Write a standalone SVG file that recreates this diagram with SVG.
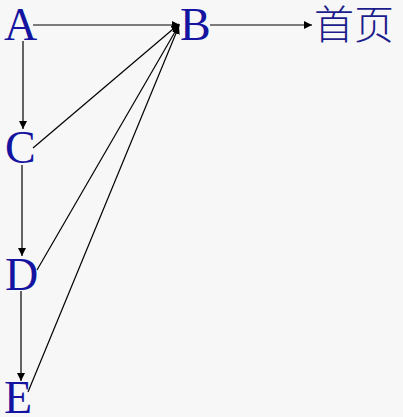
<svg xmlns="http://www.w3.org/2000/svg" width="403" height="417" viewBox="0 0 403 417">
<style>
.t{font-family:"Liberation Serif","Times New Roman",serif;font-size:46px;fill:#1414a0}
.cjk{font-family:"Liberation Serif","Noto Sans CJK SC",serif;font-size:40px;fill:#1c1c8c;font-weight:300}
.e{stroke:#000;stroke-width:1.2;fill:none;marker-end:url(#ah)}
</style>
<defs>
<marker id="ah" viewBox="0 0 10 10" refX="10" refY="5" markerWidth="8" markerHeight="8" markerUnits="userSpaceOnUse" orient="auto">
<path d="M0,0 L10,5 L0,10 z" fill="#000"/>
</marker>
</defs>
<rect width="403" height="417" fill="#f7f7f7"/>
<g id="connectors">
<line class="e" x1="33" y1="25" x2="180" y2="25"/>
<line class="e" x1="210" y1="25" x2="312" y2="25"/>
<line class="e" x1="23" y1="41" x2="23" y2="129"/>
<line class="e" x1="22" y1="165" x2="22" y2="256"/>
<line class="e" x1="21" y1="291" x2="21" y2="381"/>
<line class="e" x1="33" y1="148" x2="179" y2="24"/>
<line class="e" x1="37" y1="270" x2="179" y2="25"/>
<line class="e" x1="28" y1="392" x2="179" y2="26"/>
</g>
<g id="A"><text class="t" x="4" y="40">A</text></g>
<g id="B"><text class="t" x="180" y="40">B</text></g>
<g id="home"><text class="cjk" x="314" y="39">首页</text></g>
<g id="C"><text class="t" x="5" y="163">C</text></g>
<g id="D"><text class="t" x="5" y="290">D</text></g>
<g id="E"><text class="t" x="4" y="413">E</text></g>
</svg>
